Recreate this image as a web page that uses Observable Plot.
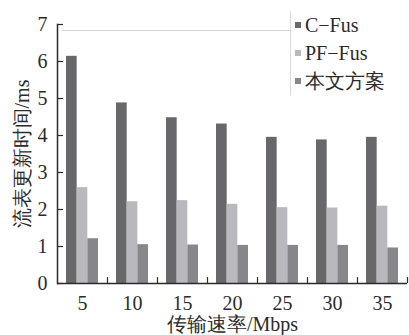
<!DOCTYPE html>
<html><head><meta charset="utf-8">
<script src="https://cdn.jsdelivr.net/npm/d3@7"></script>
<script src="https://cdn.jsdelivr.net/npm/@observablehq/plot@0.6"></script>
<style>
body{margin:0;background:#fff;}
#wrap{position:relative;width:409px;height:335px;font-family:"Liberation Serif","DejaVu Serif",serif;color:#2b2b2b;}
#topline{position:absolute;left:62px;top:30px;width:228px;height:0;border-top:1px solid #d4d4d4;}
#legend{position:absolute;left:290px;top:11px;background:#fff;border-left:1px solid #dcdcdc;padding-left:4px;}
.row{display:flex;align-items:center;height:28px;font-size:20px;line-height:28px;white-space:nowrap;}
.sw{width:6px;height:6px;margin-right:4px;}
</style></head><body><div id="wrap"><div id="topline"></div></div>
<script>
const speeds = [5, 10, 15, 20, 25, 30, 35];
const cFus  = [6.14, 4.88, 4.48, 4.31, 3.95, 3.88, 3.95];
const pfFus = [2.59, 2.21, 2.24, 2.14, 2.05, 2.04, 2.09];
const ours  = [1.21, 1.05, 1.04, 1.03, 1.03, 1.03, 0.96];
const seriesNames = ["C\u2212Fus", "PF\u2212Fus", "本文方案"];
const seriesColors = ["#68686a", "#b9b9bd", "#87878b"];
const yTicks = [0, 1, 2, 3, 4, 5, 6, 7];
const xTitle = "传输速率/Mbps";
const yTitle = "流表更新时间/ms";

const seriesValues = [cFus, pfFus, ours];
const W = 409, H = 335, mL = 57, mR = 2, mT = 24, mB = 52;
const step = (W - mL - mR) / speeds.length;
const groupStart = 0.18 * step, barW = 0.64 * step / 3;

const barMarks = seriesValues.map((vals, i) =>
  Plot.barY(speeds.map((s, j) => ({speed: s, value: vals[j]})), {
    x: "speed", y: "value", fill: seriesColors[i],
    insetLeft: groupStart + i * barW,
    insetRight: step - groupStart - (i + 1) * barW
  })
);

const chart = Plot.plot({
  width: W, height: H,
  marginLeft: mL, marginRight: mR, marginTop: mT, marginBottom: mB,
  style: {fontFamily: '"Liberation Serif","DejaVu Serif",serif', fontSize: "20px", color: "#2b2b2b", background: "transparent"},
  x: {type: "band", domain: speeds, padding: 0, label: null},
  y: {domain: [0, 7], label: null},
  marks: [
    ...barMarks,
    Plot.ruleY([0], {stroke: "#2b2b2b", strokeWidth: 1.5}),
    Plot.frame({anchor: "left", stroke: "#2b2b2b", strokeWidth: 1.5}),
    Plot.axisY({ticks: yTicks, tickSize: 0, tickPadding: 10, fontSize: 20, tickFormat: "d", label: null}),
    Plot.axisY({ticks: yTicks, tickSize: -6, tickFormat: () => "", label: null, strokeWidth: 1.2}),
    Plot.axisX({tickSize: 0, tickPadding: 12, fontSize: 20, label: null}),
    Plot.ruleX(speeds, {x: d => d, dx: step / 2, y1: 0, y2: 0.16, stroke: "#2b2b2b", strokeWidth: 1.2}),
    Plot.text([xTitle], {frameAnchor: "bottom", lineAnchor: "middle", textAnchor: "middle", dy: 41, fontSize: 20, fill: "#2b2b2b"}),
    Plot.text([yTitle], {frameAnchor: "left", lineAnchor: "middle", textAnchor: "middle", dx: -35, rotate: -90, fontSize: 20, fill: "#2b2b2b"})
  ]
});
const wrap = document.getElementById("wrap");
wrap.insertBefore(chart, wrap.firstChild);

const legend = document.createElement("div");
legend.id = "legend";
seriesNames.forEach((n, i) => {
  const r = document.createElement("div");
  r.className = "row";
  r.innerHTML = `<span class="sw" style="background:${seriesColors[i]}"></span><span>${n}</span>`;
  legend.appendChild(r);
});
wrap.appendChild(legend);
</script></body></html>
